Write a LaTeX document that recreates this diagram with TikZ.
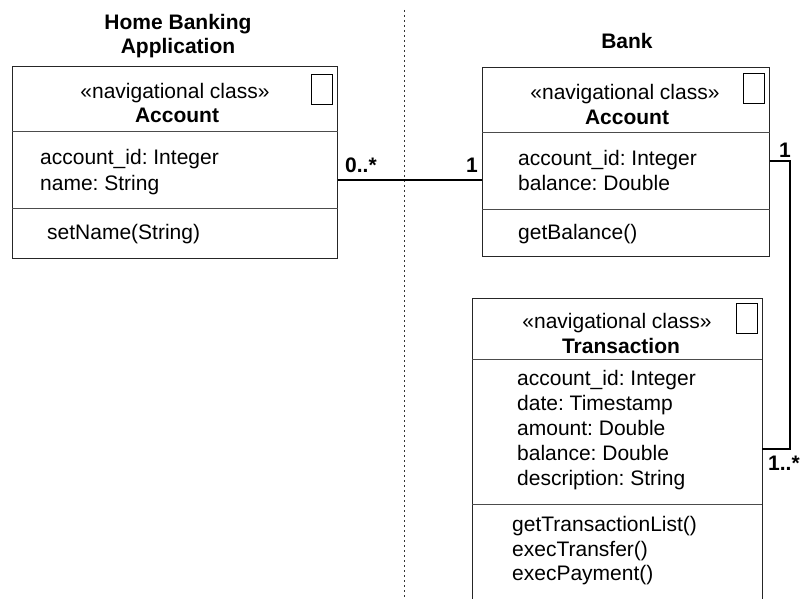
\documentclass[tikz,border=0pt]{standalone}
\usepackage{fontspec}
\setmainfont{Liberation Sans}
\frenchspacing
\begin{document}
\frenchspacing
\begin{tikzpicture}[x=1pt,y=-1pt,
  boxline/.style={draw=black!85, line width=0.9pt},
  box/.style={boxline, inner sep=0, anchor=north west},
  sep/.style={draw=black!70, line width=0.9pt},
  txt/.style={inner sep=0, anchor=base west, font=\fontsize{21}{25}\selectfont},
  ctxt/.style={inner sep=0, anchor=base, font=\fontsize{21}{25}\selectfont},
  btxt/.style={inner sep=0, anchor=base, font=\fontsize{21}{25}\selectfont\bfseries},
  icon/.style={draw=black, line width=0.9pt, inner sep=0, minimum width=21pt, minimum height=30pt, anchor=north east},
  conn/.style={line width=1.6pt, black},
  mult/.style={inner sep=0, font=\fontsize{21}{25}\selectfont\bfseries},
  divider/.style={draw=black!80, line width=0.9pt, dash pattern=on 2pt off 3pt}]
\useasboundingbox (0,0) rectangle (801,599);

% package divider
\coordinate (dtop) at (404,10);
\coordinate (dbot) at (404,599);
\draw[divider] (dtop) -- (dbot);

% titles
\node[btxt] (t1) at (178,30) {Home Banking};
\node[btxt] (t2) at (178,54) {Application};
\node[btxt] (t3) at (627,49) {Bank};

% Home Banking Account
\node[box, minimum width=325pt, minimum height=192pt] (hba) at (12,66) {};
\draw[sep] ([yshift=-65pt]hba.north west) -- ([yshift=-65pt]hba.north east);
\draw[sep] ([yshift=-142pt]hba.north west) -- ([yshift=-142pt]hba.north east);
\node[icon] (hbai) at ([xshift=-5pt,yshift=-8pt]hba.north east) {};
\node[ctxt] (hbs) at (175,99) {«navigational class»};
\node[btxt] (hbn) at (177,123) {Account};
\node[txt] (hba1) at (40,165) {account\_id: Integer};
\node[txt] (hba2) at (40,190) {name: String};
\node[txt] (hbm1) at (47,240) {setName(String)};

% Bank Account
\node[box, minimum width=287pt, minimum height=189pt] (ba) at (482,67) {};
\draw[sep] ([yshift=-65pt]ba.north west) -- ([yshift=-65pt]ba.north east);
\draw[sep] ([yshift=-142pt]ba.north west) -- ([yshift=-142pt]ba.north east);
\node[icon] (bai) at ([xshift=-5pt,yshift=-6pt]ba.north east) {};
\node[ctxt] (bas) at (625,100) {«navigational class»};
\node[btxt] (ban) at (627,125) {Account};
\node[txt] (ba1) at (518,166) {account\_id: Integer};
\node[txt] (ba2) at (518,191) {balance: Double};
\node[txt] (bam1) at (518,240) {getBalance()};

% Transaction
\node[inner sep=0, anchor=north west, minimum width=290pt, minimum height=301pt] (tr) at (472,298) {};
\draw[boxline] (tr.south west) -- (tr.north west) -- (tr.north east) -- (tr.south east);
\draw[sep] ([yshift=-61pt]tr.north west) -- ([yshift=-61pt]tr.north east);
\draw[sep] ([yshift=-206pt]tr.north west) -- ([yshift=-206pt]tr.north east);
\node[icon] (tri) at ([xshift=-5pt,yshift=-5pt]tr.north east) {};
\node[ctxt] (trs) at (617,328) {«navigational class»};
\node[btxt] (trn) at (621,353) {Transaction};
\node[txt] (tr1) at (517,385) {account\_id: Integer};
\node[txt] (tr2) at (517,410) {date: Timestamp};
\node[txt] (tr3) at (517,435) {amount: Double};
\node[txt] (tr4) at (517,460) {balance: Double};
\node[txt] (tr5) at (517,485) {description: String};
\node[txt] (trm1) at (512,531) {getTransactionList()};
\node[txt] (trm2) at (512,556) {execTransfer()};
\node[txt] (trm3) at (512,580) {execPayment()};

% association Home Banking Account -- Bank Account
\coordinate (yA) at (0,180);
\draw[conn] (hba.east |- yA) -- (ba.west |- yA);
\node[mult, anchor=base west] (m1) at (345,173) {0..*};
\node[mult, anchor=base east] (m2) at (478,173) {1};

% association Bank Account -- Transaction
\coordinate (yB) at (0,161);
\coordinate (yC) at (0,449);
\coordinate (xR) at (790,0);
\draw[conn] (ba.east |- yB) -- (xR |- yB) -- (xR |- yC) -- (tr.east |- yC);
\node[mult, anchor=base] (m3) at (785,158) {1};
\node[mult, anchor=base west] (m4) at (768,470) {1..*};
\end{tikzpicture}
\end{document}
